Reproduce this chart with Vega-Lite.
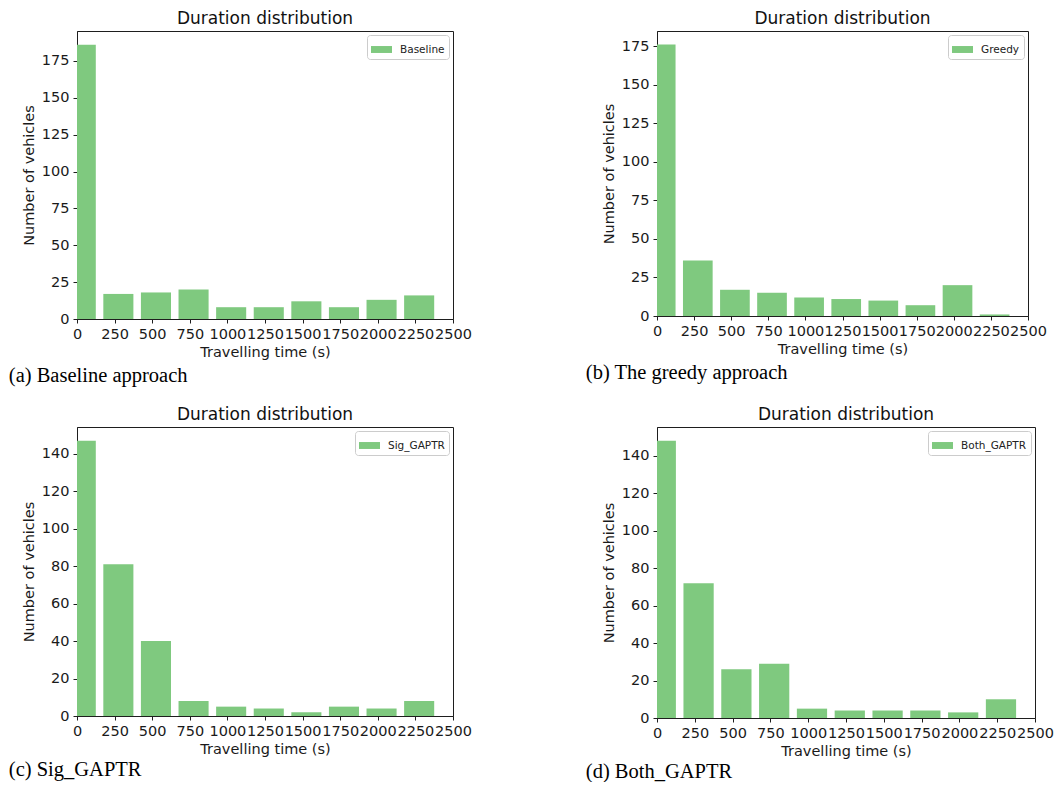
{
  "$schema": "https://vega.github.io/schema/vega-lite/v6.json",
  "padding": {"left": 8, "top": 9, "right": 0, "bottom": 0},
  "background": "white",
  "datasets": {
    "hist": [
      {"approach": "Baseline", "start": -75, "end": 125, "vehicles": 186},
      {"approach": "Baseline", "start": 175, "end": 375, "vehicles": 17},
      {"approach": "Baseline", "start": 425, "end": 625, "vehicles": 18},
      {"approach": "Baseline", "start": 675, "end": 875, "vehicles": 20},
      {"approach": "Baseline", "start": 925, "end": 1125, "vehicles": 8},
      {"approach": "Baseline", "start": 1175, "end": 1375, "vehicles": 8},
      {"approach": "Baseline", "start": 1425, "end": 1625, "vehicles": 12},
      {"approach": "Baseline", "start": 1675, "end": 1875, "vehicles": 8},
      {"approach": "Baseline", "start": 1925, "end": 2125, "vehicles": 13},
      {"approach": "Baseline", "start": 2175, "end": 2375, "vehicles": 16},
      {"approach": "Greedy", "start": -75, "end": 125, "vehicles": 176},
      {"approach": "Greedy", "start": 175, "end": 375, "vehicles": 36},
      {"approach": "Greedy", "start": 425, "end": 625, "vehicles": 17},
      {"approach": "Greedy", "start": 675, "end": 875, "vehicles": 15},
      {"approach": "Greedy", "start": 925, "end": 1125, "vehicles": 12},
      {"approach": "Greedy", "start": 1175, "end": 1375, "vehicles": 11},
      {"approach": "Greedy", "start": 1425, "end": 1625, "vehicles": 10},
      {"approach": "Greedy", "start": 1675, "end": 1875, "vehicles": 7},
      {"approach": "Greedy", "start": 1925, "end": 2125, "vehicles": 20},
      {"approach": "Greedy", "start": 2175, "end": 2375, "vehicles": 1},
      {"approach": "Sig_GAPTR", "start": -75, "end": 125, "vehicles": 147},
      {"approach": "Sig_GAPTR", "start": 175, "end": 375, "vehicles": 81},
      {"approach": "Sig_GAPTR", "start": 425, "end": 625, "vehicles": 40},
      {"approach": "Sig_GAPTR", "start": 675, "end": 875, "vehicles": 8},
      {"approach": "Sig_GAPTR", "start": 925, "end": 1125, "vehicles": 5},
      {"approach": "Sig_GAPTR", "start": 1175, "end": 1375, "vehicles": 4},
      {"approach": "Sig_GAPTR", "start": 1425, "end": 1625, "vehicles": 2},
      {"approach": "Sig_GAPTR", "start": 1675, "end": 1875, "vehicles": 5},
      {"approach": "Sig_GAPTR", "start": 1925, "end": 2125, "vehicles": 4},
      {"approach": "Sig_GAPTR", "start": 2175, "end": 2375, "vehicles": 8},
      {"approach": "Both_GAPTR", "start": -75, "end": 125, "vehicles": 148},
      {"approach": "Both_GAPTR", "start": 175, "end": 375, "vehicles": 72},
      {"approach": "Both_GAPTR", "start": 425, "end": 625, "vehicles": 26},
      {"approach": "Both_GAPTR", "start": 675, "end": 875, "vehicles": 29},
      {"approach": "Both_GAPTR", "start": 925, "end": 1125, "vehicles": 5},
      {"approach": "Both_GAPTR", "start": 1175, "end": 1375, "vehicles": 4},
      {"approach": "Both_GAPTR", "start": 1425, "end": 1625, "vehicles": 4},
      {"approach": "Both_GAPTR", "start": 1675, "end": 1875, "vehicles": 4},
      {"approach": "Both_GAPTR", "start": 1925, "end": 2125, "vehicles": 3},
      {"approach": "Both_GAPTR", "start": 2175, "end": 2375, "vehicles": 10}
    ]
  },
  "config": {
    "font": "DejaVu Sans",
    "view": {"stroke": "#1e1e1e", "strokeWidth": 1},
    "title": {"font": "DejaVu Sans", "fontSize": 17, "fontWeight": "normal", "color": "#111111", "offset": 3},
    "axis": {
      "grid": false,
      "domainColor": "#1e1e1e",
      "tickColor": "#1e1e1e",
      "tickSize": 4,
      "labelFont": "DejaVu Sans",
      "labelFontSize": 14.5,
      "labelColor": "#1a1a1a",
      "labelPadding": 4,
      "titleFont": "DejaVu Sans",
      "titleFontSize": 14.5,
      "titleFontWeight": "normal",
      "titleColor": "#1a1a1a",
      "titlePadding": 5,
      "format": "d"
    },
    "axisX": {"labelOverlap": false, "labelFlush": false, "labelBound": false},
    "axisY": {"labelOverlap": false},
    "legend": {
      "offset": 4,
      "padding": 4,
      "strokeColor": "#cccccc",
      "fillColor": "#ffffff",
      "cornerRadius": 3,
      "labelFont": "DejaVu Sans",
      "labelFontSize": 10.5,
      "labelColor": "#222222",
      "labelOffset": 8,
      "symbolType": "M-1,-0.33H1V0.33H-1Z",
      "symbolSize": 441,
      "symbolStrokeWidth": 0,
      "symbolOpacity": 1
    }
  },
  "resolve": {"scale": {"color": "independent"}, "legend": {"color": "independent"}},
  "spacing": 19,
  "vconcat": [
    {
      "resolve": {"scale": {"color": "independent"}, "legend": {"color": "independent"}},
      "spacing": 113,
      "hconcat": [
        {
          "title": {"text": "(a) Baseline approach", "orient": "bottom", "anchor": "start", "dx": -12, "offset": 6, "font": "Liberation Serif", "fontSize": 20.5, "color": "#000000"},
          "resolve": {"scale": {"color": "independent"}, "legend": {"color": "independent"}},
          "vconcat": [
            {
              "width": 376,
              "height": 288,
              "title": "Duration distribution",
              "data": {"name": "hist"},
              "transform": [{"filter": "datum.approach === 'Baseline'"}],
              "mark": {"type": "rect", "clip": true},
              "encoding": {
                "x": {"field": "start", "type": "quantitative", "scale": {"domain": [0, 2500], "nice": false}, "axis": {"values": [0, 250, 500, 750, 1000, 1250, 1500, 1750, 2000, 2250, 2500], "title": "Travelling time (s)"}},
                "x2": {"field": "end"},
                "y": {"field": "vehicles", "type": "quantitative", "scale": {"domain": [0, 195.3], "nice": false}, "axis": {"values": [0, 25, 50, 75, 100, 125, 150, 175], "title": "Number of vehicles"}},
                "y2": {"datum": 0},
                "color": {"field": "approach", "type": "nominal", "scale": {"range": ["#7fc97f"]}, "legend": {"title": null, "orient": "top-right"}}
              }
            }
          ]
        },
        {
          "title": {"text": "(b) The greedy approach", "orient": "bottom", "anchor": "start", "dx": -15, "offset": 6, "font": "Liberation Serif", "fontSize": 20.5, "color": "#000000"},
          "resolve": {"scale": {"color": "independent"}, "legend": {"color": "independent"}},
          "vconcat": [
            {
              "width": 371,
              "height": 285,
              "title": "Duration distribution",
              "data": {"name": "hist"},
              "transform": [{"filter": "datum.approach === 'Greedy'"}],
              "mark": {"type": "rect", "clip": true},
              "encoding": {
                "x": {"field": "start", "type": "quantitative", "scale": {"domain": [0, 2500], "nice": false}, "axis": {"values": [0, 250, 500, 750, 1000, 1250, 1500, 1750, 2000, 2250, 2500], "title": "Travelling time (s)"}},
                "x2": {"field": "end"},
                "y": {"field": "vehicles", "type": "quantitative", "scale": {"domain": [0, 184.8], "nice": false}, "axis": {"values": [0, 25, 50, 75, 100, 125, 150, 175], "title": "Number of vehicles"}},
                "y2": {"datum": 0},
                "color": {"field": "approach", "type": "nominal", "scale": {"range": ["#7fc97f"]}, "legend": {"title": null, "orient": "top-right"}}
              }
            }
          ]
        }
      ]
    },
    {
      "resolve": {"scale": {"color": "independent"}, "legend": {"color": "independent"}},
      "spacing": 113,
      "hconcat": [
        {
          "title": {"text": "(c) Sig_GAPTR", "orient": "bottom", "anchor": "start", "dx": -12, "offset": 3, "font": "Liberation Serif", "fontSize": 20.5, "color": "#000000"},
          "resolve": {"scale": {"color": "independent"}, "legend": {"color": "independent"}},
          "vconcat": [
            {
              "width": 376,
              "height": 289,
              "title": "Duration distribution",
              "data": {"name": "hist"},
              "transform": [{"filter": "datum.approach === 'Sig_GAPTR'"}],
              "mark": {"type": "rect", "clip": true},
              "encoding": {
                "x": {"field": "start", "type": "quantitative", "scale": {"domain": [0, 2500], "nice": false}, "axis": {"values": [0, 250, 500, 750, 1000, 1250, 1500, 1750, 2000, 2250, 2500], "title": "Travelling time (s)"}},
                "x2": {"field": "end"},
                "y": {"field": "vehicles", "type": "quantitative", "scale": {"domain": [0, 154.35], "nice": false}, "axis": {"values": [0, 20, 40, 60, 80, 100, 120, 140], "title": "Number of vehicles"}},
                "y2": {"datum": 0},
                "color": {"field": "approach", "type": "nominal", "scale": {"range": ["#7fc97f"]}, "legend": {"title": null, "orient": "top-right"}}
              }
            }
          ]
        },
        {
          "title": {"text": "(d) Both_GAPTR", "orient": "bottom", "anchor": "start", "dx": -15, "offset": 3, "font": "Liberation Serif", "fontSize": 20.5, "color": "#000000"},
          "resolve": {"scale": {"color": "independent"}, "legend": {"color": "independent"}},
          "vconcat": [
            {
              "width": 378,
              "height": 291,
              "title": "Duration distribution",
              "data": {"name": "hist"},
              "transform": [{"filter": "datum.approach === 'Both_GAPTR'"}],
              "mark": {"type": "rect", "clip": true},
              "encoding": {
                "x": {"field": "start", "type": "quantitative", "scale": {"domain": [0, 2500], "nice": false}, "axis": {"values": [0, 250, 500, 750, 1000, 1250, 1500, 1750, 2000, 2250, 2500], "title": "Travelling time (s)"}},
                "x2": {"field": "end"},
                "y": {"field": "vehicles", "type": "quantitative", "scale": {"domain": [0, 155.4], "nice": false}, "axis": {"values": [0, 20, 40, 60, 80, 100, 120, 140], "title": "Number of vehicles"}},
                "y2": {"datum": 0},
                "color": {"field": "approach", "type": "nominal", "scale": {"range": ["#7fc97f"]}, "legend": {"title": null, "orient": "top-right"}}
              }
            }
          ]
        }
      ]
    }
  ]
}
